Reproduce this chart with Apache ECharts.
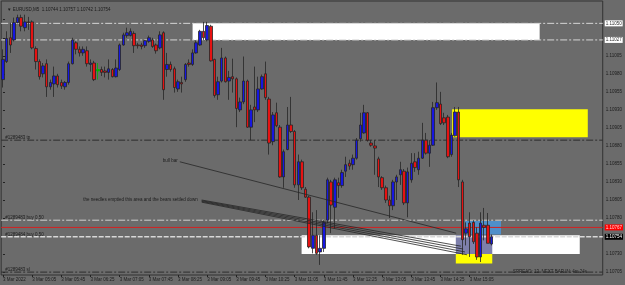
<!DOCTYPE html>
<html>
<head>
<meta charset="utf-8">
<title>EURUSD,M5</title>
<script src="https://cdn.jsdelivr.net/npm/echarts@6/dist/echarts.min.js"></script>
<style>
  html, body { margin: 0; padding: 0; background: #6b6b6b; }
  #main { width: 625px; height: 285px; }
</style>
</head>
<body>
<div id="main"></div>
<script>
// EURUSD M5, 3 Mar 2022, first bar 04:25
var symbol = 'EURUSD,M5';
var startMinute = 4 * 60 + 25;
var slots = 165;          // bars + chart shift on the right
var greenBar = 26;

// [open, close, low, high]
var bars = [
  [1.10972,1.11000,1.10961,1.11014],[1.10997,1.11029,1.10995,1.11039],[1.11030,1.11020,1.11009,1.11051],[1.11027,1.11051,1.11025,1.11058],
  [1.11051,1.11058,1.11050,1.11062],[1.11058,1.11046,1.11039,1.11062],[1.11044,1.11052,1.11039,1.11062],[1.11052,1.11051,1.11041,1.11059],
  [1.11052,1.11016,1.11014,1.11054],[1.11015,1.10997,1.10986,1.11018],[1.10997,1.10976,1.10972,1.11000],[1.10980,1.10991,1.10975,1.10995],
  [1.10994,1.10962,1.10948,1.11000],[1.10962,1.10968,1.10958,1.10972],[1.10966,1.10977,1.10948,1.10990],[1.10977,1.10965,1.10961,1.10980],
  [1.10968,1.10963,1.10959,1.10972],[1.10962,1.10968,1.10958,1.10970],[1.10968,1.10994,1.10965,1.10997],[1.10994,1.11027,1.10993,1.11030],
  [1.11023,1.11014,1.11007,1.11025],[1.11014,1.11009,1.11004,1.11018],[1.11009,1.11014,1.11005,1.11018],[1.11012,1.10994,1.10990,1.11018],
  [1.10993,1.10995,1.10983,1.11000],[1.10995,1.10972,1.10970,1.10998],[1.10986,1.10984,1.10972,1.10995],[1.10986,1.10982,1.10977,1.10990],
  [1.10984,1.10982,1.10975,1.10990],[1.10982,1.10987,1.10972,1.11000],[1.10986,1.10976,1.10975,1.10988],[1.10976,1.10988,1.10975,1.11000],
  [1.10986,1.11020,1.10984,1.11022],[1.11020,1.11034,1.11019,1.11037],[1.11033,1.11037,1.11030,1.11044],[1.11033,1.11039,1.11032,1.11043],
  [1.11036,1.11019,1.11009,1.11039],[1.11020,1.11019,1.11015,1.11023],[1.11020,1.11018,1.11014,1.11023],[1.11019,1.11026,1.11016,1.11027],
  [1.11025,1.11030,1.11023,1.11033],[1.11027,1.11018,1.11016,1.11030],[1.11020,1.11012,1.11008,1.11022],[1.11016,1.11034,1.11014,1.11039],
  [1.11037,1.10958,1.10944,1.11039],[1.10986,1.10993,1.10976,1.11009],[1.10993,1.10986,1.10983,1.10997],[1.10987,1.10961,1.10954,1.10990],
  [1.10959,1.10969,1.10955,1.10972],[1.10968,1.10966,1.10954,1.10976],[1.10972,1.10993,1.10969,1.10995],[1.10995,1.10993,1.10990,1.11000],
  [1.10993,1.11009,1.10991,1.11014],[1.11009,1.11023,1.11008,1.11026],[1.11020,1.11039,1.11019,1.11041],[1.11039,1.11030,1.11027,1.11052],
  [1.11027,1.11047,1.11025,1.11052],[1.11046,1.10998,1.10997,1.11048],[1.11000,1.10950,1.10947,1.11001],[1.10951,1.10969,1.10944,1.10976],
  [1.10970,1.11002,1.10968,1.11016],[1.11002,1.10969,1.10968,1.11004],[1.10970,1.10975,1.10944,1.10984],[1.10976,1.10973,1.10954,1.11001],
  [1.10973,1.10932,1.10906,1.10975],[1.10930,1.10941,1.10927,1.10947],[1.10941,1.10970,1.10938,1.11004],[1.10970,1.10906,1.10905,1.10972],
  [1.10906,1.10930,1.10888,1.10937],[1.10934,1.10930,1.10913,1.10990],[1.10930,1.10959,1.10927,1.10976],[1.10959,1.10976,1.10958,1.10979],
  [1.10980,1.10947,1.10944,1.10997],[1.10945,1.10884,1.10868,1.10948],[1.10886,1.10923,1.10881,1.10927],[1.10926,1.10908,1.10906,1.10940],
  [1.10906,1.10837,1.10836,1.10909],[1.10837,1.10872,1.10822,1.10875],[1.10875,1.10909,1.10874,1.10934],[1.10909,1.10900,1.10898,1.10948],
  [1.10900,1.10826,1.10822,1.10902],[1.10826,1.10858,1.10805,1.10868],[1.10858,1.10822,1.10819,1.10861],[1.10820,1.10809,1.10808,1.10823],
  [1.10809,1.10740,1.10738,1.10811],[1.10738,1.10756,1.10731,1.10788],[1.10756,1.10731,1.10729,1.10791],[1.10733,1.10738,1.10715,1.10756],
  [1.10738,1.10774,1.10733,1.10777],[1.10777,1.10833,1.10773,1.10836],[1.10830,1.10798,1.10759,1.10833],[1.10795,1.10833,1.10766,1.10836],
  [1.10829,1.10825,1.10808,1.10836],[1.10825,1.10843,1.10822,1.10847],[1.10845,1.10854,1.10837,1.10865],[1.10856,1.10852,1.10847,1.10861],
  [1.10854,1.10863,1.10847,1.10868],[1.10863,1.10888,1.10861,1.10891],[1.10890,1.10909,1.10886,1.10926],[1.10898,1.10926,1.10897,1.10937],
  [1.10926,1.10888,1.10886,1.10927],[1.10884,1.10881,1.10879,1.10888],[1.10880,1.10877,1.10840,1.10888],[1.10862,1.10837,1.10823,1.10865],
  [1.10836,1.10822,1.10819,1.10838],[1.10822,1.10805,1.10801,1.10825],[1.10805,1.10797,1.10780,1.10811],[1.10797,1.10830,1.10791,1.10833],
  [1.10830,1.10837,1.10805,1.10840],[1.10840,1.10847,1.10826,1.10858],[1.10845,1.10801,1.10798,1.10848],[1.10801,1.10844,1.10781,1.10850],
  [1.10833,1.10856,1.10829,1.10870],[1.10858,1.10850,1.10844,1.10870],[1.10847,1.10863,1.10840,1.10872],[1.10863,1.10888,1.10862,1.10912],
  [1.10888,1.10870,1.10868,1.10898],[1.10870,1.10881,1.10851,1.10888],[1.10881,1.10933,1.10880,1.10941],[1.10933,1.10940,1.10930,1.10968],
  [1.10938,1.10911,1.10909,1.10955],[1.10919,1.10912,1.10909,1.10926],[1.10920,1.10865,1.10863,1.10923],[1.10868,1.10895,1.10865,1.10898],
  [1.10894,1.10927,1.10893,1.10934],[1.10927,1.10833,1.10823,1.10934],[1.10830,1.10750,1.10729,1.10833],[1.10759,1.10765,1.10742,1.10774],
  [1.10773,1.10754,1.10726,1.10788],[1.10774,1.10747,1.10744,1.10777],[1.10759,1.10726,1.10722,1.10767],[1.10726,1.10773,1.10719,1.10788],
  [1.10770,1.10767,1.10749,1.10794],[1.10770,1.10745,1.10745,1.10787],[1.10744,1.10754,1.10742,1.10757]
];

var yTicks = [1.10705,1.10730,1.10755,1.10780,1.10805,1.10830,1.10855,1.10880,1.10905,1.10930,1.10955,1.10980,1.11005,1.11030,1.11055];
var yLabels = [1.10705,1.10730,1.10780,1.10805,1.10830,1.10855,1.10880,1.10905,1.10930,1.10955,1.10980,1.11005];

// horizontal levels: two top lines, tp, order, ask, bid/order, sl
var levels = [1.11050, 1.11027, 1.10888, 1.10777, 1.10767, 1.10754, 1.10705];
var levelColors = ['#d6d6d6','#d6d6d6','#2e2e2e','#d0d0d0','#d42020','#d8d8d8','#2e2e2e'];
var levelDash = [[7,2,2,2],[7,2,2,2],[7,2,2,2],[7,2,2,2],null,[5,1.5],[7,2,2,2]];
var levelWidths = [1,1,1,1,1,1.6,1];
var tagBg = ['#ffffff','#ffffff',null,null,'#ff0000','#000000',null];
var tagFg = ['#303030','#303030',null,null,'#ffd8d8','#ffffff',null];

// rectangles drawn on the chart (bar index, price)
var zoneX1 = [52.0, 81.9, 123.2, 124.2, 124.2, 126.7];
var zoneX2 = [147.2, 158.2, 160.4, 134.2, 134.2, 136.6];
var zoneTop = [1.11050, 1.10756, 1.10931, 1.10756, 1.10730, 1.10776];
var zoneBottom = [1.11027, 1.10730, 1.10892, 1.10730, 1.10717, 1.10757];
var zoneColors = ['#ffffff','#ffffff','#ffff00','#7d7fab','#ffff00','#4f8fca'];

// trend lines
var lineX1 = [48.5, 54.5, 54.5, 54.5, 54.5];
var lineY1 = [1.10858, 1.10805, 1.10804, 1.10803, 1.10802];
var lineX2 = [124.3, 125.6, 126.2, 126.7, 127.3];
var lineY2 = [1.10759, 1.10741, 1.10737, 1.10733, 1.10729];

// text objects
var noteText = ['bull bar', 'the needles emptied this area and the bears settled down',
  '#1289483 tp', '#1289483 buy 0.50', '#1289484 buy 0.50', '#1289483 sl'];
var noteX = [47.9, 53.4, 0.6, 0.6, 0.6, 0.6];
var noteY = [1.10859, 1.10805, 1.10888, 1.10777, 1.10754, 1.10705];
var noteAlign = ['right','right','left','left','left','left'];
var noteBase = ['middle','middle','bottom','bottom','bottom','bottom'];

var font = 'Liberation Sans';
var fs = 4.5;
var ink = '#1c1c1c';

var times = [];
for (var i = 0; i < slots; i++) {
  if (i < bars.length) {
    var m = startMinute + i * 5;
    var hh = Math.floor(m / 60), mm = m % 60;
    times.push((hh < 10 ? '0' : '') + hh + ':' + (mm < 10 ? '0' : '') + mm);
  } else {
    times.push('');
  }
}

var last = bars[bars.length - 1];
var header = '\u25BC ' + symbol + '  ' + last[0].toFixed(5) + ' ' + last[3].toFixed(5) + ' ' +
  last[2].toFixed(5) + ' ' + last[1].toFixed(5);

var candleData = bars.map(function (b, i) {
  if (i === greenBar) {
    return { value: b, itemStyle: { color: '#00b400', color0: '#00b400', borderColor: '#00b400', borderColor0: '#00b400' } };
  }
  return b;
});

var zoneData = zoneX1.map(function (x, i) { return [x, zoneX2[i], zoneTop[i], zoneBottom[i]]; });
var lineData = lineX1.map(function (x, i) { return [x, lineY1[i], lineX2[i], lineY2[i]]; });
var noteData = noteX.map(function (x, i) { return [x, noteY[i]]; });
var levelData = levels.map(function (v) { return [0, v]; });

var myChart = echarts.init(document.getElementById('main'));
var option = {
  animation: false,
  backgroundColor: '#6b6b6b',
  textStyle: { fontFamily: font },
  title: [
    { text: header, left: 2, top: 2, textStyle: { fontSize: fs, color: ink, fontWeight: 'normal', fontFamily: font } },
    { text: 'SPREAD: 13  NEXT BAR IN: 4m 24s', left: 508, top: 264, textStyle: { fontSize: fs, color: ink, fontWeight: 'normal', fontFamily: font } }
  ],
  grid: { left: 1, top: 1, right: 21, bottom: 10, show: true, borderColor: '#333', borderWidth: 1, backgroundColor: 'transparent' },
  xAxis: [{
    type: 'category',
    data: times,
    boundaryGap: true,
    axisLine: { show: false },
    axisTick: {
      show: true, length: 2, alignWithLabel: true, lineStyle: { color: '#222' },
      interval: function (idx, v) { return idx % 8 === 0 && v !== ''; }
    },
    axisLabel: {
      fontSize: fs, color: ink, fontFamily: font, margin: 2, align: 'left',
      interval: function (idx, v) { return idx % 8 === 0 && v !== ''; },
      formatter: function (v, idx) { return idx === 0 ? '3 Mar 2022' : (v ? '3 Mar ' + v : ''); }
    },
    splitLine: { show: false }
  }, {
    type: 'value', min: -0.5, max: slots - 0.5, show: false
  }],
  yAxis: {
    type: 'value',
    position: 'right',
    min: 1.10701,
    max: 1.11081,
    axisLine: { show: false },
    axisTick: { show: true, length: 2, customValues: yTicks, lineStyle: { color: '#222' } },
    axisLabel: {
      fontSize: fs, color: ink, fontFamily: font, margin: 3, customValues: yLabels,
      formatter: function (v) { return v.toFixed(5); }
    },
    splitLine: { show: false }
  },
  series: [{
    type: 'custom',
    name: 'zones',
    xAxisIndex: 1,
    z: 1,
    silent: true,
    renderItem: function (params, api) {
      var a = api.coord([api.value(0), api.value(2)]);
      var b = api.coord([api.value(1), api.value(3)]);
      return { type: 'rect', shape: { x: a[0], y: a[1], width: b[0] - a[0], height: b[1] - a[1] },
        style: { fill: zoneColors[params.dataIndex] } };
    },
    data: zoneData
  }, {
    type: 'custom',
    name: 'levels',
    xAxisIndex: 1,
    z: 2,
    silent: true,
    clip: false,
    renderItem: function (params, api) {
      var i = params.dataIndex;
      var v = api.value(1);
      var a = api.coord([-0.5, v]);
      var b = api.coord([slots - 0.5, v]);
      var kids = [{ type: 'line', shape: { x1: a[0], y1: a[1], x2: b[0], y2: b[1] },
        style: { stroke: levelColors[i], lineWidth: levelWidths[i], lineDash: levelDash[i] } }];
      if (tagBg[i]) {
        kids.push({ type: 'text', style: { text: v.toFixed(5), x: b[0] + 2, y: b[1], fill: tagFg[i],
          backgroundColor: tagBg[i], padding: [1, 1, 0, 1], fontSize: fs, fontFamily: font,
          align: 'left', verticalAlign: 'middle' } });
      }
      return { type: 'group', children: kids };
    },
    data: levelData
  }, {
    type: 'candlestick',
    name: symbol,
    xAxisIndex: 0,
    z: 3,
    barWidth: 3,
    itemStyle: { color: '#1616e0', color0: '#e61212', borderColor: '#262626', borderColor0: '#262626', borderWidth: 0.8 },
    data: candleData
  }, {
    type: 'custom',
    name: 'lines',
    xAxisIndex: 1,
    z: 5,
    silent: true,
    renderItem: function (params, api) {
      var a = api.coord([api.value(0), api.value(1)]);
      var b = api.coord([api.value(2), api.value(3)]);
      return { type: 'line', shape: { x1: a[0], y1: a[1], x2: b[0], y2: b[1] },
        style: { stroke: '#262626', lineWidth: 0.8 } };
    },
    data: lineData
  }, {
    type: 'custom',
    name: 'notes',
    xAxisIndex: 1,
    z: 6,
    silent: true,
    renderItem: function (params, api) {
      var p = api.coord([api.value(0), api.value(1)]);
      var i = params.dataIndex;
      return { type: 'text', style: { text: noteText[i], x: p[0], y: p[1], fill: ink,
        fontSize: fs, fontFamily: font, align: noteAlign[i], verticalAlign: noteBase[i] } };
    },
    data: noteData
  }]
};
myChart.setOption(option);
</script>
</body>
</html>
